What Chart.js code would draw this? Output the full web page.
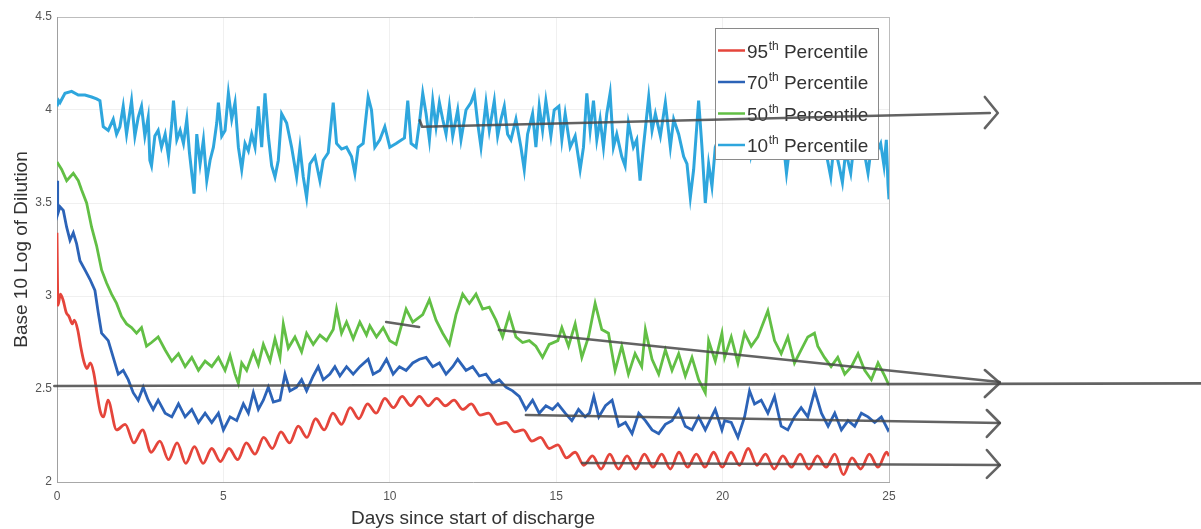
<!DOCTYPE html>
<html>
<head>
<meta charset="utf-8">
<script src="https://cdn.jsdelivr.net/npm/chart.js@4.4.1/dist/chart.umd.min.js"></script>
<style>
  html, body { margin: 0; padding: 0; background: #ffffff; }
  #c { display: block; }
</style>
</head>
<body>
<canvas id="c" width="1201" height="529"></canvas>
<script>
// ---------------- data ----------------
const percentiles = ['95', '70', '50', '10'];
const xTickDays = [0, 5, 10, 15, 20, 25];
const yTickValues = [2, 2.5, 3, 3.5, 4, 4.5];

const red95 = [[0,3.34],[0.03,2.95],[0.10,3.01],[0.18,2.98],[0.28,2.91],[0.36,2.89],[0.46,2.85],[0.52,2.87],[0.62,2.82],[0.72,2.72],[0.82,2.64],[0.90,2.61],[1.00,2.64],[1.10,2.59],[1.20,2.48],[1.30,2.38],[1.40,2.35],
[1.53,2.44],[1.79,2.28],[2.05,2.31],[2.31,2.21],[2.57,2.28],[2.83,2.16],[3.09,2.22],[3.35,2.12],[3.61,2.21],[3.87,2.10],[4.13,2.19],[4.39,2.10],[4.65,2.18],[4.91,2.11],
[5.17,2.18],[5.43,2.12],[5.69,2.21],[5.95,2.15],[6.21,2.24],[6.47,2.18],[6.73,2.27],[6.99,2.21],[7.25,2.30],[7.51,2.24],[7.77,2.34],[8.03,2.28],[8.29,2.37],[8.55,2.31],[8.81,2.40],[9.07,2.34],[9.33,2.42],[9.59,2.37],[9.85,2.45],
[10.11,2.40],[10.37,2.46],[10.63,2.41],[10.89,2.46],[11.15,2.41],[11.41,2.45],[11.67,2.41],[11.93,2.44],[12.19,2.39],[12.45,2.42],[12.71,2.36],[12.97,2.37],[13.23,2.31],[13.49,2.32],[13.75,2.27],[14.01,2.28],[14.27,2.22],[14.53,2.24],[14.79,2.18],
[15.05,2.20],[15.31,2.13],[15.57,2.16],[15.83,2.09],[16.09,2.14],[16.35,2.07],[16.61,2.15],[16.87,2.07],[17.13,2.14],[17.39,2.07],[17.65,2.15],[17.91,2.08],[18.17,2.15],[18.43,2.07],[18.69,2.16],[18.95,2.08],[19.21,2.15],[19.47,2.08],[19.73,2.16],[19.99,2.08],
[20.25,2.16],[20.51,2.09],[20.77,2.18],[21.03,2.09],[21.29,2.15],[21.55,2.07],[21.81,2.14],[22.07,2.08],[22.33,2.15],[22.59,2.07],[22.85,2.14],[23.11,2.08],[23.37,2.15],[23.63,2.04],[23.89,2.13],[24.15,2.07],[24.41,2.15],[24.67,2.08],[24.93,2.16],[25.0,2.14]];

const blue70 = [[0,3.62],[0.02,3.44],[0.09,3.48],[0.19,3.46],[0.29,3.37],[0.39,3.30],[0.49,3.34],[0.59,3.28],[0.69,3.19],[0.84,3.14],[0.99,3.09],[1.14,3.03],[1.24,2.91],[1.34,2.80],[1.44,2.78],[1.54,2.76],[1.69,2.67],[1.84,2.58],[1.99,2.60],[2.14,2.55],[2.29,2.48],[2.44,2.44],[2.59,2.51],[2.74,2.44],[2.89,2.39],[3.04,2.44],[3.25,2.37],[3.45,2.35],[3.65,2.42],[3.85,2.35],[4.05,2.39],[4.25,2.32],[4.45,2.37],[4.65,2.32],[4.85,2.37],
[5.0,2.28],[5.2,2.35],[5.4,2.33],[5.6,2.42],[5.75,2.37],[5.9,2.48],[6.05,2.39],[6.2,2.44],[6.35,2.51],[6.5,2.43],[6.7,2.44],[6.85,2.58],[7.0,2.49],[7.2,2.51],[7.35,2.55],[7.5,2.49],[7.7,2.57],[7.85,2.62],[8.0,2.55],[8.2,2.58],[8.35,2.62],[8.5,2.57],[8.7,2.62],[8.9,2.58],[9.1,2.62],[9.35,2.66],[9.5,2.58],[9.7,2.60],[9.9,2.66],
[10.1,2.58],[10.29,2.62],[10.49,2.60],[10.69,2.64],[10.89,2.66],[11.09,2.67],[11.29,2.62],[11.49,2.64],[11.69,2.58],[11.89,2.62],[12.04,2.66],[12.29,2.60],[12.49,2.62],[12.69,2.57],[12.89,2.58],[13.09,2.53],[13.29,2.55],[13.49,2.51],[13.69,2.49],[13.89,2.46],[14.09,2.39],[14.29,2.44],[14.49,2.37],[14.69,2.41],[14.89,2.39],
[15.05,2.42],[15.27,2.37],[15.47,2.33],[15.67,2.39],[15.87,2.35],[16.0,2.37],[16.13,2.46],[16.28,2.35],[16.48,2.41],[16.68,2.44],[16.88,2.30],[17.08,2.32],[17.28,2.26],[17.48,2.37],[17.68,2.33],[17.88,2.28],[18.08,2.26],[18.28,2.31],[18.48,2.33],[18.68,2.39],[18.88,2.30],[19.08,2.28],[19.28,2.35],[19.48,2.28],[19.78,2.39],[19.98,2.28],
[20.06,2.33],[20.26,2.32],[20.46,2.24],[20.66,2.35],[20.81,2.49],[20.96,2.42],[21.16,2.44],[21.36,2.37],[21.56,2.46],[21.76,2.30],[21.96,2.28],[22.16,2.35],[22.36,2.40],[22.56,2.35],[22.77,2.49],[22.97,2.37],[23.17,2.30],[23.37,2.37],[23.57,2.28],[23.77,2.33],[23.97,2.30],[24.17,2.37],[24.37,2.35],[24.57,2.32],[24.77,2.35],[24.97,2.28],[25.0,2.29]];

const green50 = [[0,3.72],[0.14,3.68],[0.29,3.62],[0.49,3.66],[0.64,3.62],[0.74,3.57],[0.89,3.50],[1.04,3.37],[1.19,3.27],[1.34,3.14],[1.49,3.07],[1.64,3.01],[1.79,2.96],[1.94,2.89],[2.09,2.85],[2.24,2.83],[2.39,2.80],[2.54,2.83],[2.69,2.73],[2.84,2.75],[3.04,2.78],[3.25,2.71],[3.45,2.65],[3.65,2.69],[3.85,2.62],[4.05,2.67],[4.25,2.60],[4.45,2.65],[4.65,2.62],[4.85,2.67],[5.05,2.60],
[5.20,2.68],[5.35,2.58],[5.45,2.53],[5.55,2.64],[5.70,2.60],[5.90,2.70],[6.05,2.63],[6.20,2.74],[6.40,2.65],[6.55,2.77],[6.70,2.67],[6.80,2.85],[6.95,2.72],[7.15,2.78],[7.35,2.70],[7.50,2.80],[7.70,2.74],[7.90,2.79],[8.10,2.76],[8.30,2.82],[8.40,2.93],[8.55,2.80],[8.70,2.86],[8.90,2.77],[9.10,2.86],[9.30,2.79],[9.40,2.84],[9.60,2.78],[9.80,2.83],[10.00,2.76],
[10.19,2.74],[10.49,2.93],[10.69,2.86],[10.99,2.90],[11.19,2.98],[11.39,2.87],[11.59,2.80],[11.79,2.74],[11.99,2.90],[12.19,3.01],[12.39,2.96],[12.59,3.01],[12.79,2.93],[12.99,2.94],[13.19,2.87],[13.39,2.78],[13.59,2.90],[13.79,2.78],[13.99,2.75],[14.19,2.76],[14.39,2.73],[14.59,2.67],[14.79,2.74],[15.05,2.76],
[15.17,2.83],[15.37,2.73],[15.57,2.85],[15.77,2.67],[15.97,2.78],[16.17,2.96],[16.37,2.82],[16.57,2.80],[16.77,2.60],[16.97,2.73],[17.17,2.58],[17.37,2.69],[17.57,2.62],[17.68,2.82],[17.88,2.66],[18.08,2.58],[18.28,2.71],[18.48,2.60],[18.68,2.69],[18.88,2.57],[19.08,2.67],[19.28,2.55],[19.48,2.48],[19.58,2.76],[19.78,2.65],[19.98,2.80],
[20.06,2.67],[20.26,2.78],[20.46,2.64],[20.66,2.80],[20.86,2.73],[21.06,2.78],[21.36,2.92],[21.56,2.76],[21.76,2.69],[21.96,2.78],[22.16,2.64],[22.36,2.71],[22.56,2.78],[22.76,2.80],[22.86,2.73],[23.06,2.67],[23.26,2.62],[23.46,2.67],[23.67,2.58],[23.87,2.62],[24.07,2.69],[24.27,2.60],[24.47,2.55],[24.67,2.64],[24.87,2.57],[25.0,2.52]];

const cyan10 = [[0,4.02],[0.05,4.05],[0.09,4.04],[0.24,4.09],[0.44,4.10],[0.64,4.08],[0.84,4.08],[1.04,4.07],[1.19,4.06],
[1.29,4.05],[1.39,3.91],[1.54,3.89],[1.69,3.95],[1.79,3.87],[1.89,3.91],[1.99,4.02],[2.09,3.87],[2.24,4.05],[2.34,3.86],[2.44,3.96],[2.54,4.02],[2.64,3.86],[2.74,3.96],[2.79,3.73],[2.84,3.70],[2.94,3.86],[3.04,3.89],[3.14,3.80],[3.25,3.87],[3.35,3.75],[3.45,3.93],[3.50,4.05],[3.60,3.84],[3.70,3.89],[3.80,3.82],[3.90,3.95],[3.98,3.77],[4.05,3.66],[4.12,3.55],[4.20,3.87],[4.30,3.71],[4.40,3.84],[4.50,3.62],[4.60,3.73],[4.70,3.80],[4.80,3.93],[4.85,4.04],[4.95,3.86],
[5.05,3.89],[5.15,4.09],[5.25,3.95],[5.35,4.04],[5.45,3.80],[5.55,3.68],[5.65,3.82],[5.75,3.78],[5.85,3.87],[5.95,3.80],[6.05,4.02],[6.15,3.80],[6.25,4.09],[6.35,3.86],[6.45,3.70],[6.55,3.64],[6.65,3.73],[6.75,3.98],[6.90,3.93],[7.05,3.80],[7.20,3.64],[7.30,3.80],[7.40,3.64],[7.50,3.53],[7.60,3.71],[7.75,3.75],[7.90,3.62],[8.00,3.73],[8.15,3.77],[8.30,4.04],[8.40,3.82],[8.55,3.79],[8.70,3.80],[8.85,3.75],[8.95,3.66],[9.05,3.80],[9.20,3.82],[9.35,4.07],[9.45,4.00],[9.55,3.80],[9.70,3.84],[9.85,3.91],[10.00,3.80],
[10.19,3.82],[10.44,3.85],[10.54,4.05],[10.64,3.82],[10.79,3.80],[10.89,3.93],[10.99,4.09],[11.09,3.98],[11.19,3.84],[11.29,4.05],[11.39,3.91],[11.49,4.04],[11.59,3.95],[11.69,3.87],[11.79,4.02],[11.89,3.86],[12.04,4.00],[12.14,3.84],[12.29,4.00],[12.44,4.04],[12.54,4.09],[12.64,3.93],[12.74,3.80],[12.89,4.04],[12.99,3.89],[13.14,4.05],[13.24,3.86],[13.34,3.95],[13.44,4.02],[13.54,3.87],[13.64,3.84],[13.79,3.95],[13.94,3.80],[14.04,3.68],[14.14,3.87],[14.29,3.98],[14.39,3.80],[14.49,4.02],[14.59,3.89],[14.69,4.05],[14.84,3.86],[14.94,4.00],
[15.08,4.02],[15.17,3.84],[15.27,3.98],[15.42,3.80],[15.57,3.86],[15.72,3.68],[15.82,3.80],[15.92,4.09],[16.02,3.89],[16.12,4.05],[16.22,3.84],[16.32,3.95],[16.42,3.80],[16.52,3.98],[16.62,4.09],[16.72,3.80],[16.82,3.87],[16.97,3.75],[17.07,3.70],[17.17,3.93],[17.32,3.80],[17.42,3.84],[17.52,3.62],[17.62,3.80],[17.78,4.07],[17.88,3.89],[17.98,3.98],[18.13,3.86],[18.28,4.04],[18.43,3.80],[18.53,3.95],[18.68,3.87],[18.83,3.75],[18.93,3.71],[19.03,3.53],[19.13,3.68],[19.28,4.05],[19.38,3.80],[19.48,3.50],[19.58,3.71],[19.68,3.59],[19.78,3.80],[19.98,3.90],
[20.10,4.02],[20.25,3.85],[20.40,3.95],[20.55,3.82],[20.70,3.98],[20.85,3.76],[21.00,3.90],[21.15,4.00],[21.30,3.84],[21.45,3.93],[21.60,3.82],[21.75,3.95],[21.92,3.66],[22.05,3.85],[22.20,3.97],[22.35,3.84],[22.50,3.92],[22.65,3.80],[22.80,3.96],[22.95,3.84],[23.10,3.78],[23.25,3.64],[23.35,3.82],[23.50,3.70],[23.60,3.61],[23.70,3.78],[23.85,3.66],[23.95,3.82],[24.10,3.90],[24.25,3.78],[24.37,3.66],[24.50,3.85],[24.65,3.78],[24.75,3.82],[24.85,3.70],[24.92,3.84],[24.97,3.60],[25.0,3.52]];

// hand-drawn pencil arrows on the scanned figure, in data units (day, log dilution)
const pencilStrokes = [
  [[10.90,3.945],[10.97,3.91],[28.03,3.984]],
  [[27.88,4.07],[28.27,3.984],[27.88,3.903]],
  [[-0.08,2.516],[34.4,2.53]],
  [[27.88,2.602],[28.33,2.532],[27.88,2.457]],
  [[9.89,2.86],[10.88,2.833]],
  [[13.28,2.817],[28.33,2.538]],
  [[14.09,2.36],[28.33,2.317]],
  [[27.94,2.387],[28.33,2.317],[27.94,2.242]],
  [[15.78,2.102],[28.33,2.091]],
  [[27.94,2.172],[28.33,2.091],[27.94,2.022]]
];

const seriesColors = ['#e5453b', '#2c63b7', '#62bf45', '#2ea6dd'];
const seriesData = [red95, blue70, green50, cyan10];
const seriesSmooth = [true, false, false, false];
const seriesWidth = [2.8, 2.8, 2.8, 3.0];

// ---------------- chart ----------------
const FONT = "'Liberation Sans', Arial, sans-serif";

const legendPlugin = {
  id: 'insideLegend',
  afterDraw(chart) {
    const ctx = chart.ctx;
    const bx = 715, by = 28, bw = 163, bh = 131;
    ctx.save();
    ctx.fillStyle = '#ffffff';
    ctx.fillRect(bx, by, bw, bh);
    ctx.strokeStyle = '#8a8a8a';
    ctx.lineWidth = 1;
    ctx.strokeRect(bx + 0.5, by + 0.5, bw, bh);
    chart.data.datasets.forEach((ds, i) => {
      const cy = 50.5 + i * 31.5;
      ctx.strokeStyle = ds.borderColor;
      ctx.lineWidth = 2.5;
      ctx.beginPath();
      ctx.moveTo(718, cy);
      ctx.lineTo(745, cy);
      ctx.stroke();
      ctx.fillStyle = '#333333';
      ctx.textBaseline = 'alphabetic';
      ctx.textAlign = 'left';
      ctx.font = '19px ' + FONT;
      const base = cy + 7;
      const num = percentiles[i];
      ctx.fillText(num, 747, base);
      let x = 747 + ctx.measureText(num).width + 0.5;
      ctx.font = '12px ' + FONT;
      ctx.fillText('th', x, base - 8);
      x += ctx.measureText('th').width;
      ctx.font = '19px ' + FONT;
      ctx.fillText(' Percentile', x, base);
    });
    ctx.restore();

    // pencil annotations drawn over everything
    const xs = chart.scales.x, ys = chart.scales.y;
    ctx.save();
    ctx.strokeStyle = 'rgba(72,72,72,0.85)';
    ctx.lineWidth = 2.6;
    ctx.lineCap = 'round';
    ctx.lineJoin = 'round';
    pencilStrokes.forEach(stroke => {
      ctx.beginPath();
      stroke.forEach((p, k) => {
        const px = xs.getPixelForValue(p[0]);
        const py = ys.getPixelForValue(p[1]);
        if (k === 0) ctx.moveTo(px, py); else ctx.lineTo(px, py);
      });
      ctx.stroke();
    });
    ctx.restore();
  }
};

const datasets = seriesData.map((arr, i) => ({
  label: percentiles[i] + 'th Percentile',
  data: arr.map(p => ({ x: p[0], y: p[1] })),
  borderColor: seriesColors[i],
  backgroundColor: seriesColors[i],
  borderWidth: seriesWidth[i],
  pointRadius: 0,
  cubicInterpolationMode: seriesSmooth[i] ? 'monotone' : 'default',
  tension: 0,
  fill: false,
  order: 4 - i
}));

const gridColor = (edgeValue) => (c) => (c.tick && c.tick.value === edgeValue ? '#bdbdbd' : 'rgba(0,0,0,0.06)');

new Chart(document.getElementById('c'), {
  type: 'line',
  data: { datasets },
  options: {
    responsive: false,
    animation: false,
    devicePixelRatio: 1,
    layout: { padding: { top: 17, right: 312, left: 0, bottom: 0 } },
    plugins: { legend: { display: false }, tooltip: { enabled: false } },
    scales: {
      x: {
        type: 'linear', min: 0, max: 25,
        afterBuildTicks: (s) => { s.ticks = xTickDays.map(v => ({ value: v })); },
        afterFit: (s) => { s.height = 47; },
        ticks: { color: '#555', font: { family: FONT, size: 12 }, padding: 7, maxRotation: 0,
                 callback: (v) => String(v) },
        grid: { drawTicks: false, color: gridColor(25), lineWidth: 1 },
        border: { display: true, color: '#a8a8a8', width: 1 },
        title: { display: true, text: 'Days since start of discharge', color: '#333',
                 font: { family: FONT, size: 19, lineHeight: 1.1 }, padding: { top: 0, bottom: 0 } }
      },
      y: {
        type: 'linear', min: 2, max: 4.5,
        afterBuildTicks: (s) => { s.ticks = yTickValues.map(v => ({ value: v })); },
        afterFit: (s) => { s.width = 57; },
        ticks: { color: '#555', font: { family: FONT, size: 12 }, padding: 5,
                 callback: (v) => String(v) },
        grid: { drawTicks: false, color: gridColor(4.5), lineWidth: 1 },
        border: { display: true, color: '#a0a0a0', width: 1 },
        title: { display: true, text: 'Base 10 Log of Dilution', color: '#333',
                 font: { family: FONT, size: 19, lineHeight: 1.1 }, padding: { top: 11, bottom: 0 } }
      }
    }
  },
  plugins: [legendPlugin]
});
</script>
</body>
</html>
